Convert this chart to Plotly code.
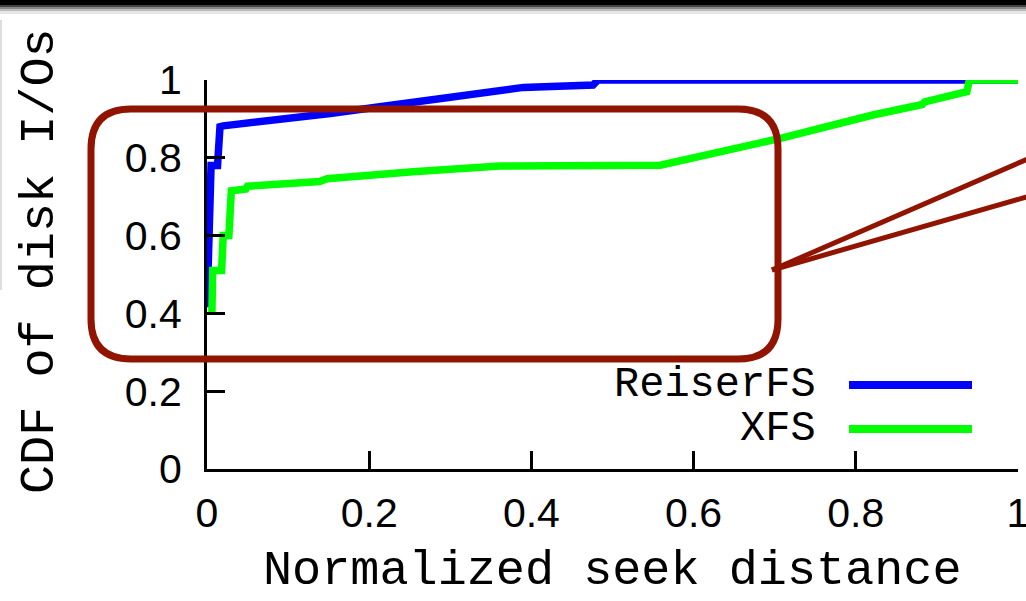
import plotly.graph_objects as go

# ---- data ----
reiser_x = [0.0, 0.005, 0.013, 0.016, 0.020, 0.090, 0.152, 0.213, 0.275, 0.337, 0.390, 0.476, 0.482, 1.0]
reiser_y = [0.416, 0.78, 0.78, 0.88, 0.882, 0.897, 0.914, 0.931, 0.949, 0.966, 0.981, 0.987, 1.0, 1.0]

xfs_x = [0.006, 0.007, 0.018, 0.020, 0.027, 0.030, 0.048, 0.050, 0.139, 0.148, 0.254, 0.361, 0.559,
         0.608, 0.707, 0.821, 0.882, 0.885, 0.937, 0.940, 1.0]
xfs_y = [0.396, 0.51, 0.51, 0.60, 0.60, 0.715, 0.72, 0.727, 0.739, 0.746, 0.764, 0.779, 0.781,
         0.803, 0.850, 0.910, 0.937, 0.944, 0.970, 1.0, 1.0]

series_names = ["ReiserFS", "XFS"]
series_colors = ["#0000FF", "#00FF00"]

x_ticks = [0, 0.2, 0.4, 0.6, 0.8, 1]
x_tick_labels = ["0", "0.2", "0.4", "0.6", "0.8", "1"]
y_ticks = [0, 0.2, 0.4, 0.6, 0.8, 1]
y_tick_labels = ["0", "0.2", "0.4", "0.6", "0.8", "1"]

x_title = "Normalized seek distance"
y_title = "CDF of disk I/Os"

# ---- layout geometry (pixels) ----
W, H = 1026, 601
L, R, T, B = 207, 1018, 80, 469


def px(xpix):
    return (xpix - L) / (R - L)


def py(ypix):
    return (B - ypix) / (B - T)


fig = go.Figure()
for xs, ys, name, col in [(reiser_x, reiser_y, series_names[0], series_colors[0]),
                          (xfs_x, xfs_y, series_names[1], series_colors[1])]:
    fig.add_trace(go.Scatter(x=xs, y=ys, mode="lines", name=name,
                             line=dict(color=col, width=7.5), showlegend=False))

shapes = []
annotations = []

# legend (gnuplot style: text left, sample right)
for i, (name, col) in enumerate(zip(series_names, series_colors)):
    yy = 385 + i * 44
    shapes.append(dict(type="line", xref="paper", yref="paper",
                       x0=px(849), x1=px(972), y0=py(yy), y1=py(yy),
                       line=dict(color=col, width=8)))
    annotations.append(dict(text=name, xref="paper", yref="paper", x=px(818), y=py(yy),
                            xanchor="right", yanchor="middle", showarrow=False,
                            font=dict(family="Liberation Mono", size=42, color="black")))

# axis titles
annotations.append(dict(text=x_title, xref="paper", yref="paper", x=px(612), y=py(601),
                        xanchor="center", yanchor="bottom", showarrow=False,
                        font=dict(family="Liberation Mono", size=48.5, color="black")))
annotations.append(dict(text=y_title, xref="paper", yref="paper", x=px(40), y=py(261),
                        xanchor="center", yanchor="middle", showarrow=False, textangle=-90,
                        font=dict(family="Liberation Mono", size=48.5, color="black")))

# rounded highlight rectangle
red = "#911400"
x0, x1, y0, y1, r = 91, 778, 109, 359, 40


def P(a, b):
    return f"{px(a):.5f},{py(b):.5f}"


path = (f"M {P(x0 + r, y0)} L {P(x1 - r, y0)} Q {P(x1, y0)} {P(x1, y0 + r)} "
        f"L {P(x1, y1 - r)} Q {P(x1, y1)} {P(x1 - r, y1)} "
        f"L {P(x0 + r, y1)} Q {P(x0, y1)} {P(x0, y1 - r)} "
        f"L {P(x0, y0 + r)} Q {P(x0, y0)} {P(x0 + r, y0)} Z")
shapes.append(dict(type="path", xref="paper", yref="paper", path=path,
                   line=dict(color=red, width=7)))
# callout lines
shapes.append(dict(type="line", xref="paper", yref="paper", x0=px(772), y0=py(270),
                   x1=px(1030), y1=py(158), line=dict(color=red, width=5)))
shapes.append(dict(type="line", xref="paper", yref="paper", x0=px(772), y0=py(270),
                   x1=px(1030), y1=py(196), line=dict(color=red, width=5)))

# top dark bar with shadow
for (a, b, c) in [(0, 5, "#000000"), (5, 7, "#444444"), (7, 9, "#888888"),
                  (9, 11, "#bbbbbb"), (11, 14, "#e6e6e6")]:
    shapes.append(dict(type="rect", xref="paper", yref="paper", x0=px(-5), x1=px(W + 5),
                       y0=py(b), y1=py(a), line=dict(width=0), fillcolor=c, layer="above"))
shapes.append(dict(type="line", xref="paper", yref="paper", x0=px(1), x1=px(1),
                   y0=py(20), y1=py(290), line=dict(color="#dddddd", width=2)))

axis_common = dict(showline=True, linecolor="black", linewidth=3, mirror=False,
                   ticks="inside", ticklen=18, tickwidth=2.5, tickcolor="black",
                   showgrid=False, zeroline=False, range=[0, 1], automargin=False,
                   ticklabeloverflow="allow",
                   tickfont=dict(family="Liberation Sans", size=41, color="black"))

fig.update_layout(
    width=W, height=H, autosize=False,
    margin=dict(l=L, r=W - R, t=T, b=H - B, pad=0, autoexpand=False),
    paper_bgcolor="white", plot_bgcolor="white",
    xaxis=dict(tickvals=x_ticks, ticktext=x_tick_labels, ticklabelstandoff=6, **axis_common),
    yaxis=dict(tickvals=y_ticks, ticktext=y_tick_labels, ticklabelstandoff=14, **axis_common),
    shapes=shapes, annotations=annotations, showlegend=False,
)

fig.write_html("out.html", config={"displayModeBar": False},
               post_script="document.body.style.margin='0';document.body.style.overflow='hidden';")
